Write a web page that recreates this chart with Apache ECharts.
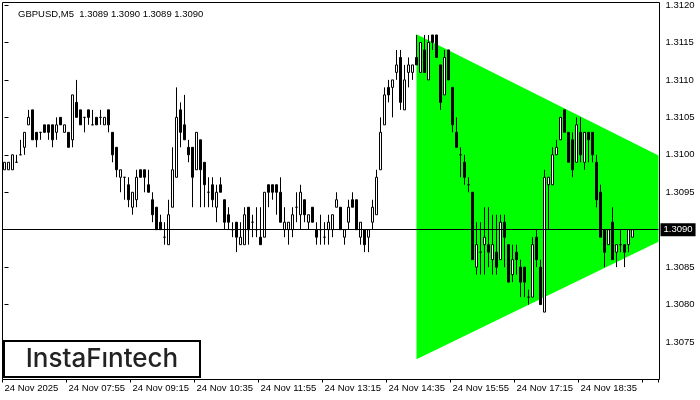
<!DOCTYPE html>
<html><head><meta charset="utf-8">
<script src="https://cdn.jsdelivr.net/npm/echarts@6/dist/echarts.min.js"></script>
<style>html,body{margin:0;padding:0;background:#fff}#c{width:700px;height:400px}</style>
</head><body><div id="c"></div>
<script>
const opens = [1.3098,1.3098,1.3098,1.3099,1.3100,1.3101,1.3104,1.3106,1.3103,1.3103,
1.3104,1.3104,1.3104,1.3103,1.3105,1.3103,1.3103,1.3102,1.3107,1.3106,
1.3105,1.3106,1.3104,1.3105,1.3105,1.3104,1.3106,1.3103,1.3101,1.3097,
1.3097,1.3096,1.3093,1.3094,1.3098,1.3098,1.3096,1.3094,1.3093,1.3091,
1.3089,1.3088,1.3093,1.3097,1.3106,1.3104,1.3101,1.3101,1.3098,1.3102,
1.3099,1.3095,1.3096,1.3093,1.3096,1.3094,1.3092,1.3090,1.3091,1.3088,
1.3088,1.3093,1.3091,1.3090,1.3089,1.3089,1.3096,1.3096,1.3096,1.3095,
1.3090,1.3090,1.3090,1.3093,1.3092,1.3094,1.3091,1.3093,1.3090,1.3090,
1.3089,1.3090,1.3090,1.3093,1.3093,1.3089,1.3091,1.3094,1.3094,1.3089,
1.3090,1.3089,1.3091,1.3092,1.3098,1.3104,1.3109,1.3109,1.3111,1.3113,
1.3106,1.3111,1.3111,1.3113,1.3111,1.3114,1.3110,1.3116,1.3116,1.3112,
1.3108,1.3114,1.3109,1.3103,1.3100,1.3099,1.3096,1.3095,1.3085,1.3087,
1.3088,1.3088,1.3086,1.3087,1.3086,1.3091,1.3088,1.3084,1.3087,1.3085,
1.3085,1.3081,1.3081,1.3089,1.3085,1.3079,1.3096,1.3096,1.3100,1.3102,
1.3106,1.3103,1.3102,1.3099,1.3103,1.3099,1.3103,1.3103,1.3099,1.3095,
1.3090,1.3088,1.3091,1.3087,1.3088,1.3088,1.3088,1.3089];
const highs = [1.3099,1.3099,1.3100,1.3100,1.3102,1.3103,1.3106,1.3106,1.3103,1.3103,
1.3104,1.3104,1.3104,1.3105,1.3105,1.3104,1.3103,1.3108,1.3110,1.3106,
1.3105,1.3106,1.3106,1.3105,1.3106,1.3105,1.3106,1.3103,1.3101,1.3098,
1.3097,1.3097,1.3095,1.3098,1.3098,1.3098,1.3098,1.3095,1.3093,1.3092,
1.3091,1.3094,1.3101,1.3109,1.3107,1.3108,1.3102,1.3101,1.3103,1.3102,
1.3099,1.3097,1.3097,1.3096,1.3097,1.3094,1.3093,1.3091,1.3091,1.3091,
1.3093,1.3093,1.3092,1.3093,1.3093,1.3095,1.3096,1.3096,1.3096,1.3097,
1.3093,1.3091,1.3093,1.3095,1.3096,1.3094,1.3092,1.3093,1.3091,1.3092,
1.3091,1.3092,1.3092,1.3095,1.3093,1.3090,1.3094,1.3095,1.3094,1.3091,
1.3090,1.3090,1.3094,1.3098,1.3105,1.3109,1.3110,1.3110,1.3114,1.3114,
1.3112,1.3113,1.3112,1.3116,1.3115,1.3116,1.3116,1.3116,1.3116,1.3112,
1.3114,1.3114,1.3109,1.3105,1.3101,1.3100,1.3097,1.3095,1.3091,1.3091,
1.3093,1.3093,1.3092,1.3092,1.3092,1.3092,1.3088,1.3088,1.3088,1.3086,
1.3085,1.3082,1.3089,1.3090,1.3086,1.3098,1.3097,1.3101,1.3102,1.3105,
1.3106,1.3103,1.3103,1.3105,1.3105,1.3103,1.3103,1.3103,1.3100,1.3096,
1.3090,1.3090,1.3093,1.3088,1.3090,1.3088,1.3090,1.3090];
const lows = [1.3098,1.3098,1.3098,1.3099,1.3100,1.3100,1.3104,1.3102,1.3101,1.3102,
1.3103,1.3102,1.3101,1.3102,1.3104,1.3103,1.3101,1.3101,1.3105,1.3104,
1.3103,1.3104,1.3104,1.3104,1.3104,1.3104,1.3103,1.3099,1.3097,1.3095,
1.3094,1.3093,1.3092,1.3093,1.3097,1.3095,1.3095,1.3091,1.3090,1.3090,
1.3088,1.3088,1.3093,1.3097,1.3101,1.3102,1.3099,1.3093,1.3098,1.3093,
1.3093,1.3093,1.3093,1.3091,1.3095,1.3090,1.3090,1.3089,1.3087,1.3088,
1.3088,1.3088,1.3089,1.3089,1.3088,1.3089,1.3093,1.3094,1.3092,1.3091,
1.3089,1.3088,1.3089,1.3091,1.3090,1.3091,1.3090,1.3091,1.3088,1.3088,
1.3088,1.3088,1.3089,1.3093,1.3090,1.3088,1.3090,1.3093,1.3090,1.3088,
1.3087,1.3087,1.3090,1.3092,1.3098,1.3104,1.3107,1.3105,1.3110,1.3106,
1.3106,1.3109,1.3110,1.3112,1.3111,1.3111,1.3110,1.3114,1.3113,1.3106,
1.3108,1.3110,1.3103,1.3101,1.3097,1.3096,1.3095,1.3086,1.3084,1.3084,
1.3084,1.3085,1.3084,1.3084,1.3086,1.3085,1.3083,1.3083,1.3084,1.3081,
1.3081,1.3080,1.3081,1.3085,1.3080,1.3079,1.3090,1.3096,1.3100,1.3102,
1.3103,1.3099,1.3097,1.3099,1.3099,1.3098,1.3099,1.3099,1.3093,1.3089,
1.3085,1.3088,1.3086,1.3085,1.3087,1.3085,1.3087,1.3089];
const closes = [1.3099,1.3099,1.3100,1.3099,1.3100,1.3103,1.3105,1.3102,1.3102,1.3103,
1.3103,1.3103,1.3102,1.3104,1.3104,1.3104,1.3101,1.3108,1.3105,1.3104,
1.3105,1.3105,1.3104,1.3104,1.3105,1.3105,1.3104,1.3100,1.3098,1.3098,
1.3097,1.3094,1.3095,1.3097,1.3097,1.3097,1.3095,1.3092,1.3090,1.3090,
1.3089,1.3092,1.3098,1.3105,1.3103,1.3102,1.3100,1.3097,1.3103,1.3098,
1.3096,1.3095,1.3094,1.3095,1.3095,1.3091,1.3091,1.3090,1.3089,1.3089,
1.3092,1.3090,1.3091,1.3090,1.3088,1.3095,1.3095,1.3095,1.3095,1.3091,
1.3091,1.3091,1.3092,1.3093,1.3095,1.3092,1.3092,1.3091,1.3089,1.3090,
1.3089,1.3091,1.3092,1.3094,1.3090,1.3090,1.3093,1.3093,1.3090,1.3091,
1.3088,1.3090,1.3093,1.3097,1.3103,1.3108,1.3108,1.3110,1.3112,1.3107,
1.3110,1.3112,1.3112,1.3112,1.3115,1.3111,1.3115,1.3115,1.3113,1.3107,
1.3113,1.3110,1.3104,1.3101,1.3100,1.3097,1.3096,1.3086,1.3088,1.3087,
1.3089,1.3087,1.3088,1.3085,1.3091,1.3089,1.3083,1.3086,1.3086,1.3083,
1.3083,1.3081,1.3088,1.3086,1.3080,1.3097,1.3097,1.3100,1.3101,1.3105,
1.3103,1.3099,1.3098,1.3104,1.3100,1.3103,1.3102,1.3100,1.3094,1.3089,
1.3087,1.3090,1.3086,1.3088,1.3088,1.3087,1.3090,1.3090];
const tickLabels = ["24 Nov 2025","24 Nov 07:55","24 Nov 09:15","24 Nov 10:35","24 Nov 11:55",
"24 Nov 13:15","24 Nov 14:35","24 Nov 15:55","24 Nov 17:15","24 Nov 18:35"];
const slotCount = 164;
const labelStep = 16;
const firstBarMinutes = 6 * 60 + 35;
const categories = [];
for (let i = 0; i < slotCount; i++) {
  const m = firstBarMinutes + 5 * i;
  categories.push(String(Math.floor(m / 60)).padStart(2, '0') + ':' + String(m % 60).padStart(2, '0'));
}
const triangleX = [103, 163.5, 163.5, 103];
const triangleY = [1.31161, 1.30999, 1.30884, 1.30727];
const currentPrice = 1.3090;
const headerText = 'GBPUSD,M5  1.3089 1.3090 1.3089 1.3090';

const candles = opens.map((o, i) => [o, closes[i], lows[i], highs[i]]);
const font = 'Liberation Sans, Arial, sans-serif';

const chart = echarts.init(document.getElementById('c'), null, {renderer: 'canvas'});
chart.setOption({
  animation: false,
  backgroundColor: '#fff',
  title: {text: headerText, left: 13, top: 4, textStyle: {fontSize: 9.5, fontWeight: 'normal', color: '#000', fontFamily: font}},
  grid: {left: 2.5, top: 4.5, width: 656, height: 375},
  xAxis: [{
    type: 'category', data: categories, boundaryGap: true,
    axisLine: {show: false},
    axisTick: {show: true, length: 3, interval: (i) => i % labelStep === 0, lineStyle: {color: '#000'}},
    axisLabel: {interval: (i) => i % labelStep === 0, formatter: (v, i) => tickLabels[i / labelStep] || '',
      align: 'left', margin: 4, fontSize: 9.5, color: '#000', fontFamily: font},
    splitLine: {show: false}
  }, {
    type: 'value', min: -0.5, max: slotCount - 0.5, show: false
  }],
  yAxis: {
    type: 'value', position: 'right', min: 1.3070, max: 1.3120, interval: 0.0005, scale: true,
    axisLine: {show: false},
    axisTick: {show: true, length: 4, lineStyle: {color: '#000'}},
    axisLabel: {showMinLabel: false, margin: 7, fontSize: 9.5, color: '#000', fontFamily: font,
      formatter: (v) => Math.abs(v - currentPrice) < 1e-7 ? '' : v.toFixed(4)},
    splitLine: {show: false}
  },
  graphic: [
    {type: 'rect', shape: {x: 2.5, y: 2.5, width: 657, height: 377}, style: {fill: null, stroke: '#000', lineWidth: 1}, z: 100, silent: true},
    {type: 'rect', shape: {x: 4, y: 341, width: 196, height: 36}, style: {fill: '#fff', stroke: '#000', lineWidth: 2}, z: 101, silent: true},
    {type: 'text', x: 102, y: 359, style: {text: 'InstaF\u0131ntech', fontSize: 26, fontFamily: 'Inter, sans-serif', fontWeight: 500, fill: '#222', align: 'center', verticalAlign: 'middle'}, z: 102, silent: true}
  ],
  series: [{
    type: 'custom', xAxisIndex: 1, yAxisIndex: 0, z: 1, silent: true,
    data: [[0, currentPrice]],
    renderItem: function (params, api) {
      const pts = triangleX.map((x, k) => api.coord([x, triangleY[k]]));
      return {type: 'polygon', shape: {points: pts}, style: {fill: '#00ff00', stroke: null}};
    }
  }, {
    type: 'candlestick', xAxisIndex: 0, yAxisIndex: 0, z: 3, barWidth: 2, silent: true,
    data: candles,
    itemStyle: {color: '#fff', color0: '#000', borderColor: '#000', borderColor0: '#000', borderWidth: 1},
    markLine: {
      silent: true, symbol: 'none', animation: false, precision: 4,
      lineStyle: {color: '#000', width: 1, type: 'solid'},
      label: {show: true, position: 'end', distance: 2, formatter: currentPrice.toFixed(4), color: '#fff',
        backgroundColor: '#000', padding: [2, 3, 1, 3], fontSize: 9.5, fontFamily: font},
      data: [{yAxis: currentPrice}]
    }
  }]
});
</script>
</body></html>
